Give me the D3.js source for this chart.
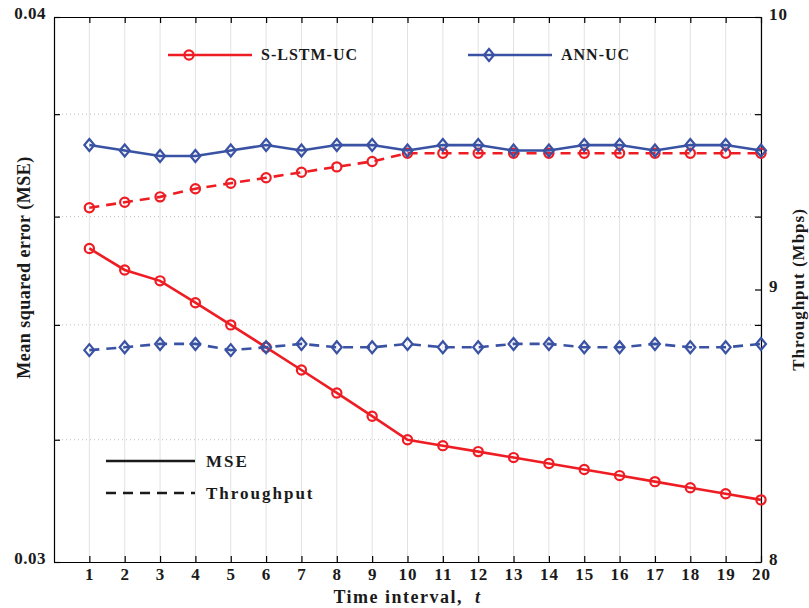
<!DOCTYPE html>
<html lang="en">
<head>
    <meta charset="UTF-8">
    <title>MSE and Throughput vs Time Interval</title>
    <style>
        body {
            margin: 0;
            background-color: #FFFFFF;
        }
        svg text {
            font-family: "Liberation Serif", "Times New Roman", serif;
            font-weight: bold;
            fill: #1a1a1a;
        }
        .axis path, .axis line {
            stroke: #000000;
            stroke-width: 1.2;
        }
    </style>
</head>
<body>
    <div id="chart"></div>

    <script src="https://d3js.org/d3.v7.min.js"></script>
    <script>
        // Data
        const intervals = [1, 2, 3, 4, 5, 6, 7, 8, 9, 10, 11, 12, 13, 14, 15, 16, 17, 18, 19, 20];
        const mseSLSTM = [0.0354, 0.0350, 0.0348, 0.0344, 0.0340, 0.0336, 0.0332, 0.0328, 0.0324, 0.0320,
                          0.0319, 0.0318, 0.0317, 0.0316, 0.0315, 0.0314, 0.0313, 0.0312, 0.0311, 0.0310];
        const mseANN = [0.03355, 0.0336, 0.03366, 0.03366, 0.03355, 0.0336, 0.03366, 0.0336, 0.0336, 0.03366,
                        0.0336, 0.0336, 0.03366, 0.03366, 0.0336, 0.0336, 0.03366, 0.0336, 0.0336, 0.03366];
        const thrSLSTM = [9.30, 9.32, 9.34, 9.37, 9.39, 9.41, 9.43, 9.45, 9.47, 9.50,
                          9.50, 9.50, 9.50, 9.50, 9.50, 9.50, 9.50, 9.50, 9.50, 9.50];
        const thrANN = [9.53, 9.51, 9.49, 9.49, 9.51, 9.53, 9.51, 9.53, 9.53, 9.51,
                        9.53, 9.53, 9.51, 9.51, 9.53, 9.53, 9.51, 9.53, 9.53, 9.51];

        const leftTicks = [0.03, 0.032, 0.034, 0.036, 0.038, 0.04];
        const leftMinor = [0.032, 0.034, 0.036, 0.038];
        const rightTicks = [8, 9, 10];

        const width = 809;
        const height = 608;
        const margin = { top: 17, right: 48, bottom: 46, left: 54 };
        const plotW = width - margin.left - margin.right;
        const plotH = height - margin.top - margin.bottom;

        const red = "#EE1D24";
        const blue = "#3A52A3";

        const svg = d3.select("#chart")
            .append("svg")
            .attr("width", width)
            .attr("height", height);

        const g = svg.append("g")
            .attr("transform", `translate(${margin.left},${margin.top})`);

        // Scales
        const x = d3.scaleLinear().domain([0, 20]).range([0, plotW]);
        const yL = d3.scaleLog().domain([0.03, 0.04]).range([plotH, 0]);
        const yR = d3.scaleLinear().domain([8, 10]).range([plotH, 0]);

        // Grid lines
        g.append("g").selectAll("line")
            .data(intervals)
            .join("line")
            .attr("x1", d => x(d)).attr("x2", d => x(d))
            .attr("y1", 0).attr("y2", plotH)
            .attr("stroke", "#e2e2e2")
            .attr("stroke-width", 1);

        g.append("g").selectAll("line")
            .data(leftMinor)
            .join("line")
            .attr("x1", 0).attr("x2", plotW)
            .attr("y1", d => yL(d)).attr("y2", d => yL(d))
            .attr("stroke", "#bdbdbd")
            .attr("stroke-width", 1)
            .attr("stroke-dasharray", "1,3");

        // Axes (ticks pointing inward, box style)
        const xAxis = g.append("g")
            .attr("class", "axis")
            .attr("transform", `translate(0,${plotH})`)
            .call(d3.axisBottom(x).tickValues(intervals).tickSize(-6).tickPadding(6).tickSizeOuter(0));
        xAxis.selectAll("text")
            .attr("font-size", "17px")
            .attr("letter-spacing", "1px");

        g.append("g")
            .attr("class", "axis")
            .call(d3.axisTop(x).tickValues(intervals).tickSize(-6).tickFormat("").tickSizeOuter(0));

        const leftAxis = g.append("g")
            .attr("class", "axis")
            .call(d3.axisLeft(yL).tickValues(leftTicks).tickSize(-6).tickPadding(8).tickSizeOuter(0)
                .tickFormat(d => (d === 0.03 || d === 0.04) ? d3.format(".2f")(d) : ""));
        leftAxis.selectAll("text")
            .attr("font-size", "17px")
            .attr("letter-spacing", "0.5px")
            .attr("y", -4);

        const rightAxis = g.append("g")
            .attr("class", "axis")
            .attr("transform", `translate(${plotW},0)`)
            .call(d3.axisRight(yR).tickValues(rightTicks).tickSize(-6).tickPadding(8).tickSizeOuter(0)
                .tickFormat(d3.format("d")));
        rightAxis.selectAll("text")
            .attr("font-size", "17px")
            .attr("letter-spacing", "1px")
            .attr("y", -3);

        // mirrored minor ticks of the left axis on the right side
        g.append("g")
            .attr("class", "axis")
            .attr("transform", `translate(${plotW},0)`)
            .call(d3.axisRight(yL).tickValues(leftMinor).tickSize(-6).tickFormat("").tickSizeOuter(0))
            .select(".domain").remove();

        // Axis titles
        const xTitle = svg.append("text")
            .attr("x", margin.left + plotW / 2)
            .attr("y", 603)
            .attr("text-anchor", "middle")
            .attr("font-size", "18px")
            .attr("letter-spacing", "1.5px");
        xTitle.append("tspan").text("Time interval,\u00A0\u00A0");
        xTitle.append("tspan").attr("font-style", "italic").text("t");

        svg.append("text")
            .attr("transform", `translate(30,${margin.top + plotH / 2 - 22}) rotate(-90)`)
            .attr("text-anchor", "middle")
            .attr("font-size", "18px")
            .attr("letter-spacing", "0.5px")
            .text("Mean squared error (MSE)");

        svg.append("text")
            .attr("transform", `translate(804,${margin.top + plotH / 2}) rotate(-90)`)
            .attr("text-anchor", "middle")
            .attr("font-size", "17px")
            .attr("letter-spacing", "1px")
            .text("Throughput (Mbps)");

        // Series
        const series = [
            { values: mseSLSTM, scale: yL, color: red, dash: null, marker: "circle" },
            { values: thrSLSTM, scale: yR, color: red, dash: "10,7", marker: "circle" },
            { values: thrANN, scale: yR, color: blue, dash: null, marker: "diamond" },
            { values: mseANN, scale: yL, color: blue, dash: "10,7", marker: "diamond" }
        ];

        function diamondPath(cx, cy) {
            return `M${cx},${cy - 6}L${cx + 5},${cy}L${cx},${cy + 6}L${cx - 5},${cy}Z`;
        }

        series.forEach(s => {
            const line = d3.line()
                .x((d, i) => x(intervals[i]))
                .y(d => s.scale(d));

            g.append("path")
                .datum(s.values)
                .attr("d", line)
                .attr("fill", "none")
                .attr("stroke", s.color)
                .attr("stroke-width", 2.6)
                .attr("stroke-dasharray", s.dash);

            if (s.marker === "circle") {
                g.append("g").selectAll("circle")
                    .data(s.values)
                    .join("circle")
                    .attr("cx", (d, i) => x(intervals[i]))
                    .attr("cy", d => s.scale(d))
                    .attr("r", 4.6)
                    .attr("fill", "none")
                    .attr("stroke", s.color)
                    .attr("stroke-width", 2.2);
            } else {
                g.append("g").selectAll("path")
                    .data(s.values)
                    .join("path")
                    .attr("d", (d, i) => diamondPath(x(intervals[i]), s.scale(d)))
                    .attr("fill", "none")
                    .attr("stroke", s.color)
                    .attr("stroke-width", 2.2);
            }
        });

        // Legend: methods
        const legendTop = svg.append("g");
        [
            { name: "S-LSTM-UC", color: red, marker: "circle", x0: 168 },
            { name: "ANN-UC", color: blue, marker: "diamond", x0: 468 }
        ].forEach(item => {
            legendTop.append("line")
                .attr("x1", item.x0).attr("x2", item.x0 + 84)
                .attr("y1", 55).attr("y2", 55)
                .attr("stroke", item.color)
                .attr("stroke-width", 2.6);
            if (item.marker === "circle") {
                legendTop.append("circle")
                    .attr("cx", item.x0 + 21).attr("cy", 55).attr("r", 4.6)
                    .attr("fill", "none").attr("stroke", item.color).attr("stroke-width", 2.2);
            } else {
                legendTop.append("path")
                    .attr("d", diamondPath(item.x0 + 21, 55))
                    .attr("fill", "none").attr("stroke", item.color).attr("stroke-width", 2.2);
            }
            legendTop.append("text")
                .attr("x", item.x0 + 93).attr("y", 60)
                .attr("font-size", "16px")
                .attr("letter-spacing", "1px")
                .text(item.name);
        });

        // Legend: line styles
        const legendStyle = svg.append("g");
        [
            { name: "MSE", dash: null, y: 461 },
            { name: "Throughput", dash: "10,7", y: 493 }
        ].forEach(item => {
            legendStyle.append("line")
                .attr("x1", 106).attr("x2", 195)
                .attr("y1", item.y).attr("y2", item.y)
                .attr("stroke", "#1a1a1a")
                .attr("stroke-width", 2.6)
                .attr("stroke-dasharray", item.dash);
            legendStyle.append("text")
                .attr("x", 206).attr("y", item.y + 6)
                .attr("font-size", "17px")
                .attr("letter-spacing", "2px")
                .text(item.name);
        });
    </script>
</body>
</html>
